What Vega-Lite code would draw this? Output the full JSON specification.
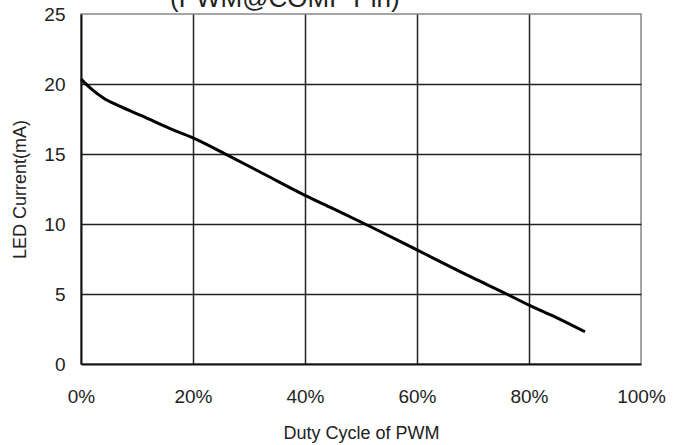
{
  "$schema": "https://vega.github.io/schema/vega-lite/v6.json",
  "width": 560,
  "height": 350,
  "autosize": {"type": "none"},
  "padding": {"left": 81, "top": 14, "right": 41, "bottom": 81},
  "background": "white",
  "title": {
    "text": "(PWM@COMP Pin)",
    "font": "Liberation Sans",
    "fontSize": 26,
    "fontWeight": "normal",
    "color": "#222",
    "anchor": "start",
    "frame": "group",
    "dx": 89,
    "baseline": "alphabetic",
    "offset": 0,
    "dy": 28
  },
  "config": {
    "view": {"stroke": "#888", "strokeWidth": 1.5},
    "axis": {
      "labelFont": "Liberation Sans",
      "titleFont": "Liberation Sans",
      "labelColor": "#222",
      "titleColor": "#222",
      "titleFontWeight": "normal",
      "ticks": false,
      "domainColor": "#111",
      "domainWidth": 2,
      "gridColor": "#222",
      "gridWidth": 1.5,
      "gridOpacity": 1
    }
  },
  "data": {
    "values": [
      {"duty": 0, "current": 20.35},
      {"duty": 2, "current": 19.6},
      {"duty": 4, "current": 19.0},
      {"duty": 7, "current": 18.4},
      {"duty": 11, "current": 17.7},
      {"duty": 16, "current": 16.8},
      {"duty": 20, "current": 16.15},
      {"duty": 26, "current": 14.95},
      {"duty": 33, "current": 13.5},
      {"duty": 40, "current": 12.05},
      {"duty": 45, "current": 11.1},
      {"duty": 52, "current": 9.75},
      {"duty": 60, "current": 8.15},
      {"duty": 70, "current": 6.15},
      {"duty": 76, "current": 5.0},
      {"duty": 80, "current": 4.2},
      {"duty": 85, "current": 3.3},
      {"duty": 90, "current": 2.3}
    ]
  },
  "mark": {"type": "line", "color": "#000", "strokeWidth": 3, "interpolate": "monotone"},
  "encoding": {
    "x": {
      "field": "duty",
      "type": "quantitative",
      "scale": {"domain": [0, 100], "nice": false},
      "axis": {
        "values": [0, 20, 40, 60, 80, 100],
        "labelExpr": "datum.value + '%'",
        "labelFontSize": 19,
        "labelPadding": 23,
        "labelFlush": false,
        "title": "Duty Cycle of PWM",
        "titleFontSize": 18,
        "titlePadding": 18,
        "gridColor": {"condition": {"test": "datum.value == 100 || datum.value == 0", "value": "transparent"}, "value": "#222"}
      }
    },
    "y": {
      "field": "current",
      "type": "quantitative",
      "scale": {"domain": [0, 25], "nice": false},
      "axis": {
        "values": [0, 5, 10, 15, 20, 25],
        "labelFontSize": 19,
        "labelPadding": 16,
        "title": "LED Current(mA)",
        "titleFontSize": 18,
        "titlePadding": 14,
        "gridColor": {"condition": {"test": "datum.value == 25 || datum.value == 0", "value": "transparent"}, "value": "#222"}
      }
    }
  }
}
